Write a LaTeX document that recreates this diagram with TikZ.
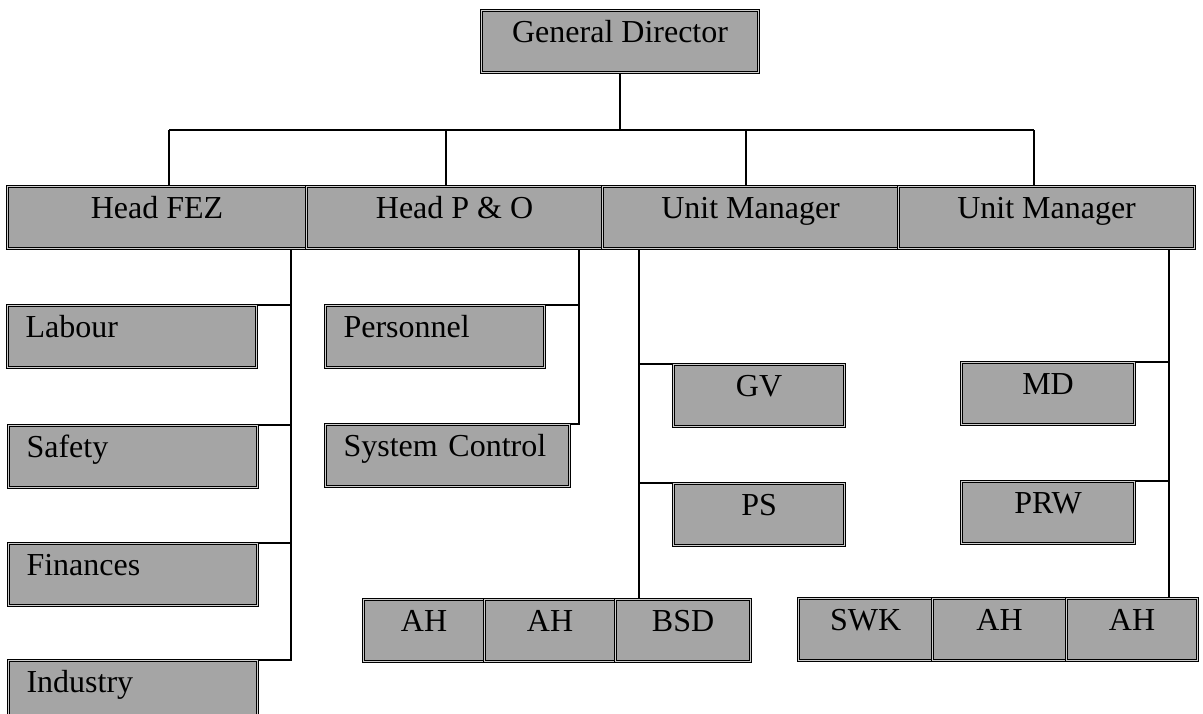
\documentclass[tikz,border=0pt]{standalone}
\usepackage{fontspec}
\setmainfont{Liberation Serif}
\definecolor{boxgray}{RGB}{165,165,165}
\definecolor{gapgray}{RGB}{205,205,205}
\tikzset{
  box/.style={draw=black, line width=1.1pt, double=gapgray, double distance=1.3pt,
    fill=boxgray, anchor=north west, inner ysep=0pt, minimum height=62pt,
    text height=32pt, text depth=30pt, font=\fontsize{32}{38}\selectfont},
  cbox/.style={box, align=center, inner xsep=4pt},
  lbox/.style={box, align=left, inner xsep=18pt, text width=#1-36pt, minimum width=#1},
  conn/.style={draw=black, line width=1.3pt}
}
\begin{document}
\begin{tikzpicture}[x=1pt,y=-1pt]
\useasboundingbox (0,0) rectangle (1203,713);
\clip (0,0) rectangle (1203,713);
% top
\node[cbox, minimum width=277pt] (gd) at (481,10) {General Director};
% row 2
\node[cbox, minimum width=299pt] (hfez) at (7,186) {Head FEZ};
\node[cbox, minimum width=296pt] (hpo) at (306,186) {Head P \& O};
\node[cbox, minimum width=296pt] (um1) at (602,186) {Unit Manager};
\node[cbox, minimum width=296pt] (um2) at (898,186) {Unit Manager};
% left column
\node[lbox=249pt] (lab) at (7,305) {Labour};
\node[lbox=249pt] (saf) at (8,425) {Safety};
\node[lbox=249pt] (fin) at (8,543) {Finances};
\node[lbox=249pt] (ind) at (8,660) {Industry};
% P&O column
\node[lbox=219pt] (pers) at (325,305) {Personnel};
\node[lbox=244pt] (syc) at (325,424) {System Control};
% unit manager 1
\node[cbox, minimum width=171pt] (gv) at (673,364) {GV};
\node[cbox, minimum width=171pt] (ps) at (673,483) {PS};
% unit manager 2
\node[cbox, minimum width=173pt] (md) at (961,362) {MD};
\node[cbox, minimum width=173pt] (prw) at (961,481) {PRW};
% bottom rows
\node[cbox, minimum width=121pt] (ah1) at (363,599) {AH};
\node[cbox, minimum width=131pt] (ah2) at (484,599) {AH};
\node[cbox, minimum width=135pt] (bsd) at (615,599) {BSD};
\node[cbox, minimum width=134pt] (swk) at (798,598) {SWK};
\node[cbox, minimum width=134pt] (ah3) at (932,598) {AH};
\node[cbox, minimum width=131pt] (ah4) at (1066,598) {AH};
% connector coordinates
\coordinate (b1) at (169,130);
\coordinate (b2) at (446,130);
\coordinate (b3) at (746,130);
\coordinate (b4) at (1034,130);
\coordinate (s1) at (291,0);
\coordinate (s2) at (579,0);
\coordinate (s3) at (639,0);
\coordinate (s4) at (1169,0);
% top connectors
\draw[conn] (gd.south) -- (gd.south |- b1);
\draw[conn] (b1) -- (b4);
\draw[conn] (b1) -- (b1 |- hfez.north);
\draw[conn] (b2) -- (b2 |- hpo.north);
\draw[conn] (b3) -- (b3 |- um1.north);
\draw[conn] (b4) -- (b4 |- um2.north);
% Head FEZ spine
\draw[conn] (hfez.south -| s1) -- (ind.north -| s1) -- (ind.north east);
\draw[conn] (lab.north east) -- (lab.north east -| s1);
\draw[conn] (saf.north east) -- (saf.north east -| s1);
\draw[conn] (fin.north east) -- (fin.north east -| s1);
% Head P&O spine
\draw[conn] (hpo.south -| s2) -- (syc.north -| s2) -- (syc.north east);
\draw[conn] (pers.north east) -- (pers.north east -| s2);
% Unit manager 1 spine
\draw[conn] (um1.south -| s3) -- (bsd.north -| s3);
\draw[conn] (gv.north west) -- (gv.north west -| s3);
\draw[conn] (ps.north west) -- (ps.north west -| s3);
% Unit manager 2 spine
\draw[conn] (um2.south -| s4) -- (ah4.north -| s4);
\draw[conn] (md.north east) -- (md.north east -| s4);
\draw[conn] (prw.north east) -- (prw.north east -| s4);
\end{tikzpicture}
\end{document}
